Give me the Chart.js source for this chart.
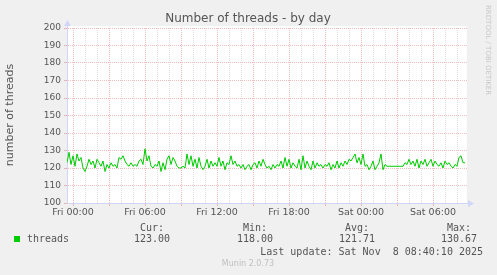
<!DOCTYPE html>
<html>
<head>
<meta charset="utf-8">
<script src="https://cdn.jsdelivr.net/npm/chart.js@4"></script>
<style>
html, body { margin: 0; padding: 0; background: #f0f0f0; }
#wrap { width: 497px; height: 275px; }
</style>
</head>
<body>
<div id="wrap"><canvas id="threadsGraph" width="497" height="275"></canvas></div>
<script>
//data section

// threads, one value every 10 minutes from Thu 23:30
const threads = [
    123, 129, 122, 127, 121, 128, 124, 126, 120, 118,
    121, 125, 122, 124, 120, 125, 123, 121, 124, 118,
    122, 120, 123, 121, 122, 120, 126, 125, 127, 124,
    122, 121, 123, 121, 122, 121, 124, 125, 122, 131,
    124, 127, 121, 120, 122, 121, 124, 118, 123, 119,
    125, 127, 122, 126, 124, 121, 120, 120, 121, 120,
    128, 122, 127, 121, 125, 120, 126, 121, 119, 121,
    125, 120, 124, 121, 123, 121, 126, 121, 124, 119,
    123, 122, 127, 122, 124, 121, 122, 120, 122, 119,
    121, 122, 119, 122, 123, 120, 124, 121, 125, 122,
    120, 121, 119, 122, 120, 122, 121, 124, 120, 126,
    121, 125, 120, 123, 121, 120, 125, 119, 127, 120,
    124, 121, 119, 124, 120, 123, 121, 122, 120, 122,
    121, 123, 119, 122, 120, 124, 120, 123, 121, 124,
    122, 125, 124, 126, 128, 123, 126, 122, 128, 121,
    122, 119, 121, 124, 119, 121, 123, 128, 119, 122,
    121, 121, 121, 121, 121, 121, 121, 121, 121, 123,
    122, 125, 122, 124, 121, 125, 120, 124, 122, 125,
    121, 123, 125, 121, 124, 122, 121, 123, 120, 124,
    122, 123, 121, 120, 122, 121, 126, 127, 123, 123
];
const startHour = -0.5;      // hours from Fri 00:00
const stepHour = 1 / 6;      // 10 minutes
const endHour = 32.8333;

// x grid every hour, red every 3 hours, label every 6
const gridHours = [];
for (let h = 0; h <= 32; h++) gridHours.push(h);
const labelHours = [0, 6, 12, 18, 24, 30];
const labelTexts = ['Fri 00:00', 'Fri 06:00', 'Fri 12:00', 'Fri 18:00', 'Sat 00:00', 'Sat 06:00'];

// y ticks
const yTicks = [100, 105, 110, 115, 120, 125, 130, 135, 140, 145, 150,
    155, 160, 165, 170, 175, 180, 185, 190, 195, 200];

// legend
const legendHeads = ['Cur:', 'Min:', 'Avg:', 'Max:'];
const legendValues = ['123.00', '118.00', '121.71', '130.67'];
const lastUpdate = 'Last update: Sat Nov  8 08:40:10 2025';

//colors
const majorGrid = 'rgba(225, 90, 90, 0.4)';
const minorGrid = 'rgba(150, 150, 150, 0.33)';
const axisColor = '#cfd6f8';
const fontColor = '#555555';

const points = threads.map((v, i) => ({ x: startHour + i * stepHour, y: v }));

//decor: background, arrows, titles, legend
const muninDecor = {
    id: 'muninDecor',
    beforeDraw(chart) {
        const c = chart.ctx, a = chart.chartArea;
        c.save();
        c.fillStyle = '#f0f0f0';
        c.fillRect(0, 0, chart.width, chart.height);
        c.fillStyle = '#ffffff';
        c.fillRect(a.left, a.top - 2, a.right - a.left, a.bottom - a.top + 2);
        c.restore();
    },
    afterDraw(chart) {
        const c = chart.ctx, a = chart.chartArea;
        c.save();
        // arrows
        c.fillStyle = axisColor;
        c.strokeStyle = axisColor;
        c.lineWidth = 1;
        c.beginPath();
        c.moveTo(a.left + 0.5, a.top);
        c.lineTo(a.left + 0.5, a.top - 4);
        c.stroke();
        c.beginPath();
        c.moveTo(a.left - 3, a.top - 2);
        c.lineTo(a.left + 4, a.top - 2);
        c.lineTo(a.left + 0.5, a.top - 8);
        c.closePath();
        c.fill();
        c.beginPath();
        c.moveTo(a.right + 1, a.bottom - 3);
        c.lineTo(a.right + 1, a.bottom + 4);
        c.lineTo(a.right + 7, a.bottom + 0.5);
        c.closePath();
        c.fill();

        // title
        c.fillStyle = fontColor;
        c.font = '12px "DejaVu Sans"';
        c.textAlign = 'center';
        c.textBaseline = 'middle';
        c.fillText('Number of threads - by day', 248, 19);

        // y title
        c.save();
        c.translate(10, 115);
        c.rotate(-Math.PI / 2);
        c.font = '11px "DejaVu Sans"';
        c.fillText('number of threads', 0, 0);
        c.restore();

        // rrdtool credit
        c.save();
        c.translate(488, 5);
        c.rotate(Math.PI / 2);
        c.fillStyle = '#c8c8c8';
        c.font = '7px "DejaVu Sans"';
        c.textAlign = 'left';
        c.fillText('RRDTOOL / TOBI OETIKER', 0, 0);
        c.restore();

        // legend
        c.font = '10px "DejaVu Sans Mono"';
        c.fillStyle = '#00cc00';
        c.fillRect(14, 236, 6, 6);
        c.fillStyle = fontColor;
        c.textAlign = 'left';
        c.fillText('threads', 27, 239);
        const cols = [152, 255, 357, 459];
        c.textAlign = 'center';
        for (let i = 0; i < cols.length; i++) {
            c.fillText(legendHeads[i], cols[i], 228);
            c.fillText(legendValues[i], cols[i], 239);
        }
        c.textAlign = 'right';
        c.fillText(lastUpdate, 483, 252);

        c.textAlign = 'center';
        c.fillStyle = '#c0c0c0';
        c.font = '8px "DejaVu Sans"';
        c.fillText('Munin 2.0.73', 248, 264);
        c.restore();
    }
};

//threads graph
const threadsGraph = () => {
    var ctx = document.getElementById('threadsGraph').getContext('2d');
    var chart = new Chart(ctx, {
        type: 'line',
        data: {
            datasets: [{
                label: 'threads',
                borderColor: '#00cc00',
                borderWidth: 1,
                pointRadius: 0,
                tension: 0,
                data: points
            }]
        },
        options: {
            responsive: false,
            animation: false,
            layout: {
                padding: { left: 0, right: 30, top: 28, bottom: 0 }
            },
            plugins: {
                legend: { display: false },
                title: { display: false },
                tooltip: { enabled: false }
            },
            scales: {
                x: {
                    type: 'linear',
                    min: startHour,
                    max: endHour,
                    afterBuildTicks: s => { s.ticks = gridHours.map(v => ({ value: v })); },
                    afterFit: s => { s.height = 72; },
                    ticks: {
                        autoSkip: false,
                        maxRotation: 0,
                        padding: 1,
                        color: fontColor,
                        font: { family: 'DejaVu Sans', size: 9.5 },
                        callback: v => {
                            const i = labelHours.indexOf(v);
                            return i >= 0 ? labelTexts[i] : '';
                        }
                    },
                    grid: {
                        color: c => c.tick.value % 3 === 0 ? majorGrid : minorGrid,
                        tickColor: c => c.tick.value % 3 === 0 ? majorGrid : 'rgba(0,0,0,0)',
                        tickLength: 3
                    },
                    border: { color: axisColor, dash: [1, 1] }
                },
                y: {
                    min: 100,
                    max: 200,
                    afterBuildTicks: s => { s.ticks = yTicks.map(v => ({ value: v })); },
                    afterFit: s => { s.width = 67; },
                    ticks: {
                        padding: 3,
                        color: fontColor,
                        font: { family: 'DejaVu Sans', size: 9 },
                        callback: v => v % 10 === 0 ? String(v) : ''
                    },
                    grid: {
                        color: c => c.tick.value % 10 === 0 ? majorGrid : minorGrid,
                        tickColor: c => c.tick.value % 10 === 0 ? majorGrid : minorGrid,
                        tickLength: 3
                    },
                    border: { color: axisColor, dash: [1, 1] }
                }
            }
        },
        plugins: [muninDecor]
    });
};
threadsGraph()
</script>
</body>
</html>
